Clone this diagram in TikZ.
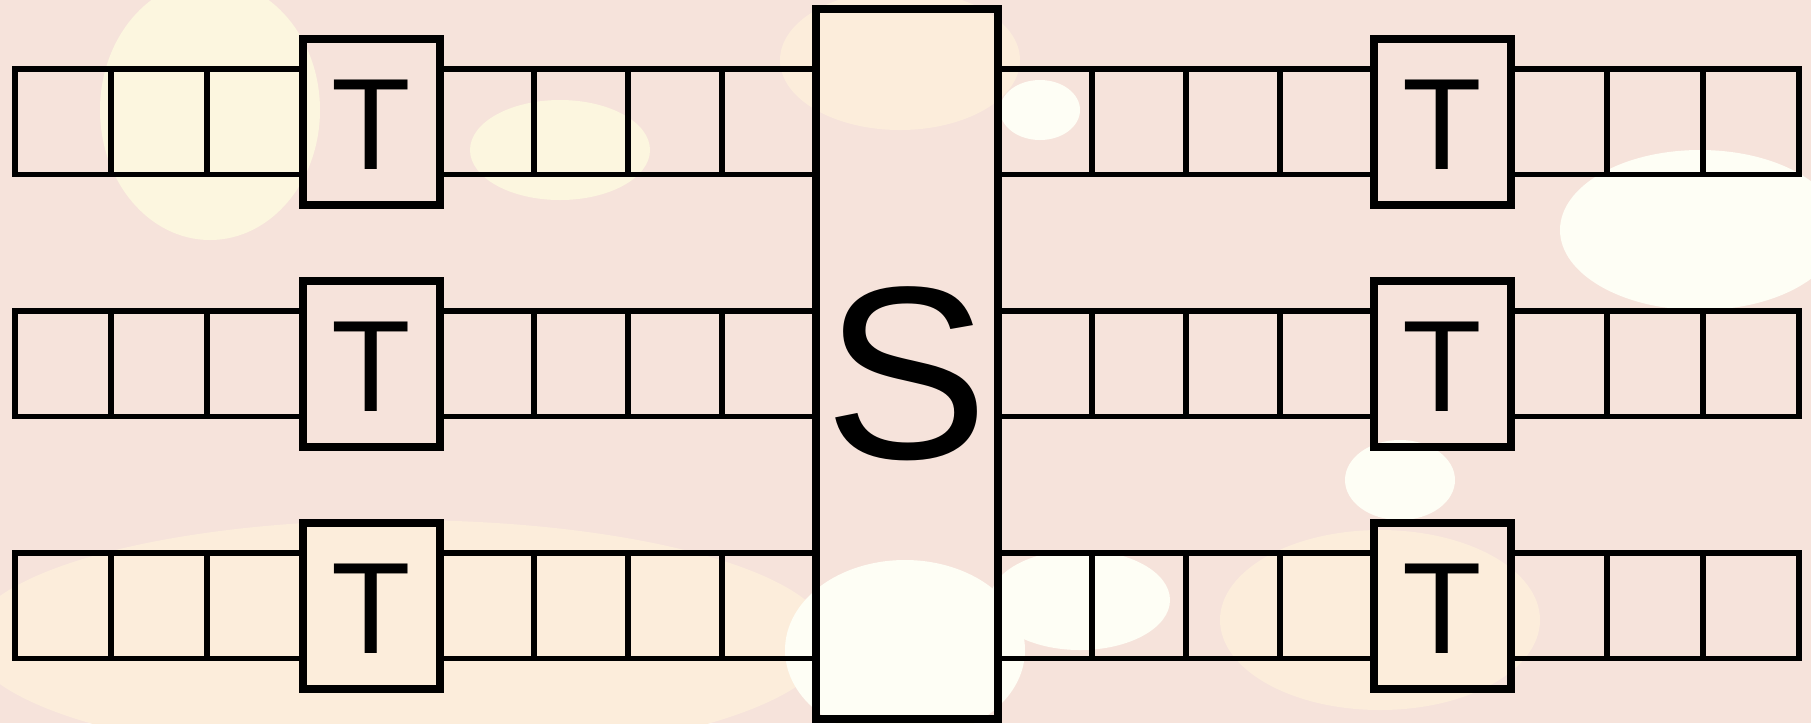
\documentclass[tikz,border=0pt]{standalone}
\usepackage{fontspec}
\setmainfont{Liberation Sans}
\definecolor{nen}{HTML}{F6E3DB}
\definecolor{kem}{HTML}{FCEDDB}
\definecolor{vang}{HTML}{FCF6DF}
\definecolor{trang}{HTML}{FEFEF5}
\begin{document}
\begin{tikzpicture}[x=0.01cm, y=-0.01cm,
    o/.style={draw, line width=0.057cm, minimum height=1.055cm, inner sep=0pt},
    dau/.style={draw, line width=0.08cm, minimum width=1.37cm, minimum height=1.655cm,
        inner sep=0pt, font=\fontsize{37}{40}\selectfont}]
    % 1. Nen
    \useasboundingbox (0,0) rectangle (1811,723);
    \fill[nen] (0,0) rectangle (1811,723);
    \fill[vang] (210,110) ellipse (110 and 130);
    \fill[vang] (560,150) ellipse (90 and 50);
    \fill[kem] (400,640) ellipse (430 and 120);
    \fill[kem] (900,60) ellipse (120 and 70);
    \fill[kem] (1380,620) ellipse (160 and 90);
    \fill[trang] (905,650) ellipse (120 and 90);
    \fill[trang] (1080,600) ellipse (90 and 50);
    \fill[trang] (1700,230) ellipse (140 and 80);
    \fill[trang] (1400,480) ellipse (55 and 40);
    \fill[trang] (1040,110) ellipse (40 and 30);

    % 2. Cac bang o
    \foreach \y [count=\r] in {121.75,363.75,605.75} {
        % ben trai
        \foreach \x [count=\c] in {63,159,255}
            \node[o, minimum width=0.96cm] (L\r-\c) at (\x,\y) {};
        \foreach \x [count=\c from 4] in {487,581,675,769}
            \node[o, minimum width=0.94cm] (L\r-\c) at (\x,\y) {};
        % ben phai
        \foreach \x [count=\c] in {1045,1139,1233,1327}
            \node[o, minimum width=0.94cm] (R\r-\c) at (\x,\y) {};
        \foreach \x [count=\c from 5] in {1559,1655,1751}
            \node[o, minimum width=0.96cm] (R\r-\c) at (\x,\y) {};
        % dau doc
        \node[dau] (TL\r) at (371.5,\y) {\raisebox{-0.03cm}[\height][0pt]{T}};
        \node[dau] (TR\r) at (1442.5,\y) {\raisebox{-0.03cm}[\height][0pt]{T}};
    }

    % 3. Khoi S
    \node[dau, minimum width=1.82cm, minimum height=7.1cm,
        font=\fontsize{70}{74}\selectfont] (S) at (907,364)
        {\raisebox{-0.1cm}[\height][\depth]{S}};
\end{tikzpicture}
\end{document}
